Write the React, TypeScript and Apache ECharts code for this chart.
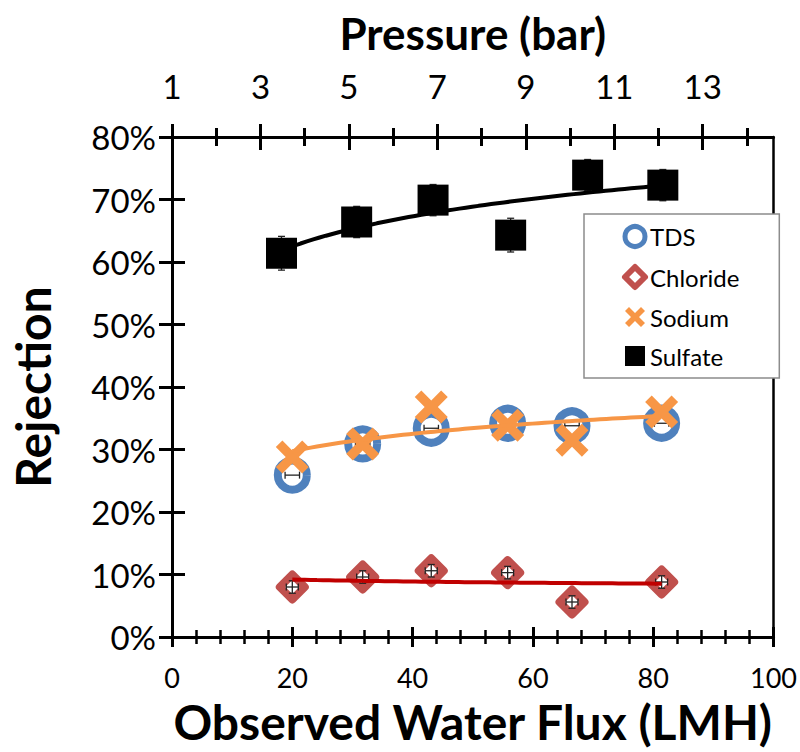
import React, { useEffect, useRef } from "react";
import * as echarts from "echarts";

// ---- data ----
const fluxIon = [20.0, 31.7, 43.1, 55.8, 66.5, 81.4];
const tds = [25.9, 30.9, 33.4, 34.2, 33.8, 34.2];
const tdsErrX = [1.2, 1.2, 1.2, 1.2, 1.2, 1.2];
const chloride = [8.0, 9.6, 10.6, 10.3, 5.6, 8.8];
const chlorideErrX = [1.0, 1.0, 1.0, 1.0, 1.0, 1.0];
const chlorideErrY = [1.0, 1.0, 1.0, 1.0, 1.0, 1.0];
const sodium = [28.8, 30.9, 36.8, 33.9, 31.5, 36.0];
const fluxSulfate = [18.2, 30.7, 43.4, 56.3, 69.1, 81.6];
const sulfate = [61.4, 66.4, 69.9, 64.3, 73.9, 72.3];
const sulfateErrY = [2.7, 2.5, 2.5, 2.7, 2.5, 2.5];

const fluxTicks = [0, 20, 40, 60, 80, 100];
const fluxMinorTicks = [4, 8, 12, 16, 24, 28, 32, 36, 44, 48, 52, 56, 64, 68, 72, 76, 84, 88, 92, 96];
const pressureTicks = [1, 3, 5, 7, 9, 11, 13];
const pressureMinorTicks = [2, 4, 6, 8, 10, 12, 14];
const rejectionTicks = [0, 10, 20, 30, 40, 50, 60, 70, 80];

const FONT = "Lato";

// Excel-style logarithmic trendline (least squares on ln x)
function logFit(xs: number[], ys: number[]) {
  const n = xs.length;
  const lx = xs.map((x) => Math.log(x));
  const mx = lx.reduce((s, v) => s + v, 0) / n;
  const my = ys.reduce((s, v) => s + v, 0) / n;
  let sxy = 0;
  let sxx = 0;
  for (let i = 0; i < n; i++) {
    sxy += (lx[i] - mx) * (ys[i] - my);
    sxx += (lx[i] - mx) * (lx[i] - mx);
  }
  const b = sxy / sxx;
  return { a: my - b * mx, b };
}
function trend(xs: number[], ys: number[], steps = 60) {
  const { a, b } = logFit(xs, ys);
  const x0 = xs[0];
  const x1 = xs[xs.length - 1];
  const out: number[][] = [];
  for (let i = 0; i <= steps; i++) {
    const x = x0 + ((x1 - x0) * i) / steps;
    out.push([x, a + b * Math.log(x)]);
  }
  return out;
}
const zip = (xs: number[], ys: number[]) => xs.map((x, i) => [x, ys[i]]);

const X_PATH = "path://M2,0 L5,3 L8,0 L10,2 L7,5 L10,8 L8,10 L5,7 L2,10 L0,8 L3,5 L0,2 Z";

const lineStyle = { color: "#000", width: 3 };

function tickAxis(position: string, min: number, max: number, values: number[], len: number, inside: boolean, w = 3) {
  return {
    type: "value",
    position,
    min,
    max,
    axisLine: { show: false, onZero: false },
    axisTick: { show: true, inside, length: len, customValues: values, lineStyle: { color: "#000", width: w } },
    axisLabel: { show: false },
    splitLine: { show: false },
  };
}

// error bars: data rows [x, y, errX, errY]
function errorBars(name: string, rows: number[][], z: number) {
  return {
    name,
    type: "custom",
    silent: true,
    z,
    data: rows,
    renderItem: (params: any, api: any) => {
      const x = api.value(0);
      const y = api.value(1);
      const ex = api.value(2);
      const ey = api.value(3);
      const c = api.coord([x, y]);
      const style = { stroke: "#222", lineWidth: 1.3 };
      const children: any[] = [];
      const cap = 3.5;
      if (ex > 0) {
        const l = api.coord([x - ex, y]);
        const r = api.coord([x + ex, y]);
        children.push({ type: "line", shape: { x1: l[0], y1: c[1], x2: r[0], y2: c[1] }, style });
        children.push({ type: "line", shape: { x1: l[0], y1: c[1] - cap, x2: l[0], y2: c[1] + cap }, style });
        children.push({ type: "line", shape: { x1: r[0], y1: c[1] - cap, x2: r[0], y2: c[1] + cap }, style });
      }
      if (ey > 0) {
        const t = api.coord([x, y + ey]);
        const b = api.coord([x, y - ey]);
        children.push({ type: "line", shape: { x1: c[0], y1: t[1], x2: c[0], y2: b[1] }, style });
        children.push({ type: "line", shape: { x1: c[0] - cap, y1: t[1], x2: c[0] + cap, y2: t[1] }, style });
        children.push({ type: "line", shape: { x1: c[0] - cap, y1: b[1], x2: c[0] + cap, y2: b[1] }, style });
      }
      return { type: "group", children };
    },
  };
}

export default function App() {
  const ref = useRef<HTMLDivElement>(null);
  useEffect(() => {
    document.body.style.margin = "0";
    const chart = echarts.init(ref.current!, null, { renderer: "svg" });
    const titleStyle = { fontFamily: FONT, fontWeight: "bold", color: "#000" };
    const option: any = {
      animation: false,
      backgroundColor: "#fff",
      textStyle: { fontFamily: FONT },
      grid: { left: 171, right: 23, top: 137, bottom: 115, containLabel: false },
      legend: {
        orient: "vertical",
        left: 584,
        top: 214,
        padding: [10, 40, 10, 38],
        itemGap: 15,
        itemWidth: 20,
        itemHeight: 20,
        borderColor: "#8c8c8c",
        borderWidth: 1.5,
        backgroundColor: "#fff",
        textStyle: { fontFamily: FONT, fontSize: 24, color: "#000" },
        data: [
          { name: "TDS", itemStyle: { borderWidth: 5 } },
          { name: "Chloride", itemStyle: { borderWidth: 6 } },
          { name: "Sodium" },
          { name: "Sulfate" },
        ],
      },
      xAxis: [
        {
          type: "value",
          position: "bottom",
          min: 0,
          max: 100,
          interval: 20,
          name: "Observed Water Flux (LMH)",
          nameLocation: "middle",
          nameGap: 60,
          nameTextStyle: { ...titleStyle, fontSize: 48 },
          axisLine: { show: true, onZero: false, lineStyle },
          axisTick: { show: true, length: 10, customValues: fluxTicks, lineStyle },
          axisLabel: { show: true, customValues: fluxTicks, margin: 27, fontFamily: FONT, fontSize: 27, color: "#000" },
          splitLine: { show: false },
        },
        tickAxis("bottom", 0, 100, fluxTicks, 10, true),
        tickAxis("bottom", 0, 100, fluxMinorTicks, 7, false, 2.5),
        tickAxis("bottom", 0, 100, fluxMinorTicks, 7, true, 2.5),
        {
          type: "value",
          position: "top",
          min: 1,
          max: 14.6,
          interval: 2,
          name: "Pressure (bar)",
          nameLocation: "middle",
          nameGap: 82,
          nameTextStyle: { ...titleStyle, fontSize: 44 },
          axisLine: { show: true, onZero: false, lineStyle },
          axisTick: { show: true, length: 13, customValues: pressureTicks, lineStyle },
          axisLabel: { show: true, customValues: pressureTicks, margin: 35, fontFamily: FONT, fontSize: 33, color: "#000" },
          splitLine: { show: false },
        },
        tickAxis("top", 1, 14.6, pressureTicks, 13, true),
        tickAxis("top", 1, 14.6, pressureMinorTicks, 9, false),
        tickAxis("top", 1, 14.6, pressureMinorTicks, 9, true),
      ],
      yAxis: [
        {
          type: "value",
          position: "left",
          min: 0,
          max: 80,
          interval: 10,
          name: "Rejection",
          nameLocation: "middle",
          nameGap: 116,
          nameTextStyle: { ...titleStyle, fontSize: 48 },
          axisLine: { show: true, onZero: false, lineStyle },
          axisTick: { show: true, length: 13, customValues: rejectionTicks, lineStyle },
          axisLabel: { show: true, customValues: rejectionTicks, margin: 16, formatter: "{value}%", fontFamily: FONT, fontSize: 33, color: "#000" },
          splitLine: { show: false },
        },
        tickAxis("left", 0, 80, rejectionTicks, 13, true),
        {
          type: "value",
          position: "right",
          min: 0,
          max: 80,
          axisLine: { show: true, onZero: false, lineStyle: { color: "#000", width: 2.5 } },
          axisTick: { show: false },
          axisLabel: { show: false },
          splitLine: { show: false },
        },
      ],
      series: [
        errorBars("Sulfate error", fluxSulfate.map((x, i) => [x, sulfate[i], 0, sulfateErrY[i]]), 1),
        {
          name: "TDS",
          type: "scatter",
          data: zip(fluxIon, tds),
          symbol: "circle",
          symbolSize: 29,
          itemStyle: { color: "#fff", borderColor: "#4F81BD", borderWidth: 8, opacity: 1 },
          z: 2,
        },
        {
          name: "Chloride",
          type: "scatter",
          data: zip(fluxIon, chloride),
          symbol: "diamond",
          symbolSize: 25,
          itemStyle: { color: "#fff", borderColor: "#C0504D", borderWidth: 8, borderJoin: "round", opacity: 1 },
          z: 2,
        },
        {
          name: "Sulfate",
          type: "scatter",
          data: zip(fluxSulfate, sulfate),
          symbol: "rect",
          symbolSize: 31,
          itemStyle: { color: "#000", opacity: 1 },
          z: 2,
        },
        errorBars("TDS error", fluxIon.map((x, i) => [x, tds[i], tdsErrX[i], 0]), 3),
        errorBars("Chloride error", fluxIon.map((x, i) => [x, chloride[i], chlorideErrX[i], chlorideErrY[i]]), 3),
        {
          name: "Sodium",
          type: "scatter",
          data: zip(fluxIon, sodium),
          symbol: X_PATH,
          symbolSize: 33,
          itemStyle: { color: "#F79646", opacity: 1 },
          z: 4,
        },
        {
          name: "Sulfate trend",
          type: "line",
          data: trend(fluxSulfate, sulfate),
          showSymbol: false,
          lineStyle: { color: "#000", width: 4 },
          z: 5,
          silent: true,
        },
        {
          name: "Sodium trend",
          type: "line",
          data: trend(fluxIon, sodium),
          showSymbol: false,
          lineStyle: { color: "#F79646", width: 4 },
          z: 5,
          silent: true,
        },
        {
          name: "Chloride trend",
          type: "line",
          data: trend(fluxIon, chloride),
          showSymbol: false,
          lineStyle: { color: "#C00000", width: 4 },
          z: 5,
          silent: true,
        },
      ],
    };
    chart.setOption(option);
    return () => chart.dispose();
  }, []);
  return <div ref={ref} style={{ width: 800, height: 752 }} />;
}
